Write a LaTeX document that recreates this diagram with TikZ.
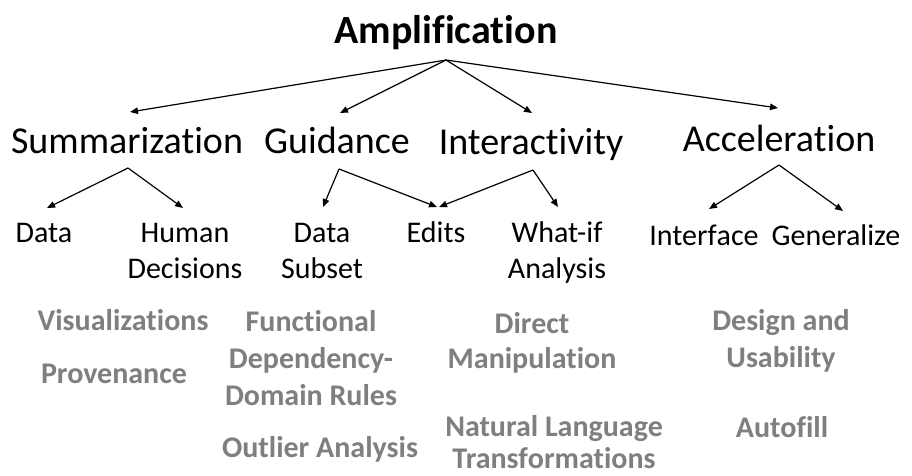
\documentclass[tikz,border=0pt]{standalone}
\usepackage{fontspec}
\setmainfont[Ligatures={NoCommon,NoContextual}]{Carlito}
\usetikzlibrary{arrows.meta}
\definecolor{techgray}{RGB}{127,127,127}
\newcommand{\mlines}[1]{\begin{tabular}[t]{@{}c@{}}#1\end{tabular}}
\newcommand{\nl}{\kern0pt}
\begin{document}
\begin{tikzpicture}[x=1pt,y=-1pt,
  lbl/.style={inner sep=0pt, anchor=base, text=black},
  ttl/.style={lbl, font=\fontsize{40}{48}\selectfont\bfseries},
  cat/.style={lbl, font=\fontsize{38}{46}\selectfont},
  subcat/.style={lbl, font=\fontsize{30}{36}\selectfont},
  tech/.style={lbl, font=\fontsize{30}{37}\selectfont\bfseries, text=techgray},
  arr/.style={-{Triangle[length=8pt,width=6.5pt]}, line width=1.2pt}
]
\fill[white] (0,0) rectangle (912,475);
\useasboundingbox (0,0) rectangle (912,475);

% title
\node[ttl] (amp) at (446,43) {Amplif\nl icat\nl ion};

% categories
\node[cat] (summ)  at (127,153) {Summarizat\nl ion};
\node[cat] (guid)  at (337,153) {Guidance};
\node[cat] (inter) at (531,154) {Interact\nl ivit\nl y};
\node[cat] (accel) at (779,151) {Accelerat\nl ion};

% sub-categories
\node[subcat] (data)   at (44,242)  {Data};
\node[subcat] (human)  at (185,242) {\mlines{Human\\Decisions}};
\node[subcat] (dsub)   at (322,242) {\mlines{Data\\Subset}};
\node[subcat] (edits)  at (436,242) {Edits};
\node[subcat] (whatif) at (557,242) {\mlines{What-if\\Analysis}};
\node[subcat] (interf) at (704,245) {Interf\nl ace};
\node[subcat] (gen)    at (836,245) {Generalize};

% techniques
\node[tech] (vis)    at (123,330) {Visualizat\nl ions};
\node[tech] (prov)   at (114,383) {Provenance};
\node[tech] (fd)     at (311,331) {\mlines{Funct\nl ional\\Dependency-\\Domain Rules}};
\node[tech] (outl)   at (320,457) {Outlier Analysis};
\node[tech] (dm)     at (532,333) {\mlines{Direct\\[-2pt]Manipulat\nl ion}};
\node[tech] (nlt)    at (554,436) {\mlines{Natural Language\\[-5pt]Transf\nl ormat\nl ions}};
\node[tech] (du)     at (781,330) {\mlines{Design and\\Usabilit\nl y}};
\node[tech] (auto)   at (782,437) {Autof\nl i\nl l\nl l};

% connector end points
\coordinate (ampO)   at (446,60);
\coordinate (summI)  at (130,112);
\coordinate (guidI)  at (340,113);
\coordinate (interI) at (532,113);
\coordinate (accelI) at (778,108);

\coordinate (summO)  at (128,168);
\coordinate (dataI)  at (47,208);
\coordinate (humanI) at (183,208);

\coordinate (guidO)  at (339,169);
\coordinate (dsubI)  at (323,207);
\coordinate (editsIa) at (437,207);

\coordinate (interO) at (533,170);
\coordinate (editsIb) at (439,207);
\coordinate (whatifI) at (558,207);

\coordinate (accelO) at (779,165);
\coordinate (interfI) at (709,209);
\coordinate (genI)   at (843,211);

% connectors
\draw[arr] (ampO) -- (summI);
\draw[arr] (ampO) -- (guidI);
\draw[arr] (ampO) -- (interI);
\draw[arr] (ampO) -- (accelI);

\draw[arr] (summO) -- (dataI);
\draw[arr] (summO) -- (humanI);

\draw[arr] (guidO) -- (dsubI);
\draw[arr] (guidO) -- (editsIa);

\draw[arr] (interO) -- (editsIb);
\draw[arr] (interO) -- (whatifI);

\draw[arr] (accelO) -- (interfI);
\draw[arr] (accelO) -- (genI);
\end{tikzpicture}
\end{document}
